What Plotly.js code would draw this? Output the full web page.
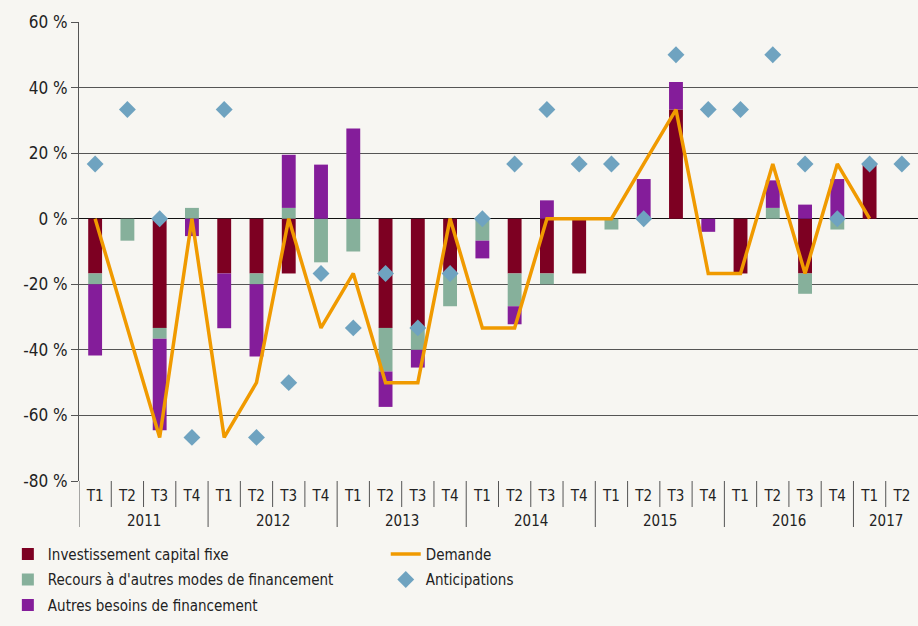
<!DOCTYPE html>
<html>
<head>
<meta charset="utf-8">
<script src="https://cdn.plot.ly/plotly-3.0.1.min.js"></script>
<style>
html,body{margin:0;padding:0;background:#f7f6f2;}
#chart{width:918px;height:626px;}
</style>
</head>
<body>
<div id="chart"></div>
<script>
const years = ['2011','2011','2011','2011','2012','2012','2012','2012','2013','2013','2013','2013','2014','2014','2014','2014','2015','2015','2015','2015','2016','2016','2016','2016','2017','2017'];
const quarters = ['T1','T2','T3','T4','T1','T2','T3','T4','T1','T2','T3','T4','T1','T2','T3','T4','T1','T2','T3','T4','T1','T2','T3','T4','T1','T2'];

const investissement = [-16.7,0,-33.3,0,-16.7,-16.7,-16.7,0,0,-33.3,-33.3,-16.7,0,-16.7,-16.7,-16.7,0,0,33.3,0,-16.7,0,-16.7,0,16.7,0];
const recours = [-3.3,-6.7,-3.3,3.3,0,-3.3,3.3,-13.3,-10,-13.3,-6.7,-10,-6.7,-10,-3.3,0,-3.3,0,0,0,0,3.3,-6.2,-3.3,0,0];
const autres = [-21.7,0,-27.9,-5.3,-16.7,-22,16.2,16.5,27.5,-10.8,-5.4,0,-5.4,-5.5,5.6,0,0,12.1,8.4,-4,0,8.4,4.3,12.1,0,0];
const demande = [0,-33.3,-66.7,0,-66.7,-50,0,-33.3,-16.7,-50,-50,0,-33.3,-33.3,0,0,0,16.7,33.3,-16.7,-16.7,16.7,-16.7,16.7,0,null];
const anticipations = [16.7,33.3,0,-66.7,33.3,-66.7,-50,-16.7,-33.3,-16.7,-33.3,-16.7,0,16.7,33.3,16.7,16.7,0,50,33.3,33.3,50,16.7,0,16.7,16.7];

const yTickVals = [60,40,20,0,-20,-40,-60,-80];
const yTickText = ['60 %','40 %','20 %','0 %','-20 %','-40 %','-60 %','-80 %'];

const FONT = '"DejaVu Sans Condensed", "Liberation Sans Narrow", Roboto, sans-serif';
const TXT = '#222';
const LINE = '#555';

// unique category keys, labelled with the quarter only
const cats = years.map((y, i) => y + ' ' + quarters[i]);
const n = cats.length;

// year groups (computed from the arrays)
const groups = [];
years.forEach((y, i) => {
  if (!groups.length || groups[groups.length - 1].year !== y) groups.push({year: y, start: i, end: i});
  else groups[groups.length - 1].end = i;
});

const PLOT_H = 626 - 22 - 145;
const shapes = [];
const annotations = [];
for (let i = 0; i < n; i++) {
  const isYearEdge = groups.some(g => g.start === i);
  shapes.push({type:'line', xref:'x', yref:'paper', x0:i - 0.5, x1:i - 0.5,
    y0:0, y1: isYearEdge ? -46 / PLOT_H : -26 / PLOT_H,
    line:{color:LINE, width:1}, layer:'above'});
}
groups.forEach(g => {
  annotations.push({xref:'x', yref:'paper', x:(g.start + g.end) / 2, y:-40 / PLOT_H,
    yanchor:'middle', xanchor:'center', text:g.year, showarrow:false,
    font:{family:FONT, size:15, color:TXT}});
});

const traces = [
  {type:'bar', name:'Investissement capital fixe', x:cats, y:investissement, marker:{color:'#7d0022'}, legend:'legend', legendgroup:'a'},
  {type:'bar', name:"Recours à d'autres modes de financement", x:cats, y:recours, marker:{color:'#86b09b'}, legend:'legend', legendgroup:'b'},
  {type:'bar', name:'Autres besoins de financement', x:cats, y:autres, marker:{color:'#841d9a'}, legend:'legend', legendgroup:'c'},
  {type:'scatter', mode:'lines', name:'Demande', x:cats, y:demande, line:{color:'#f09a00', width:3.5}, connectgaps:false, legend:'legend2', legendgroup:'d'},
  {type:'scatter', mode:'markers', name:'Anticipations', x:cats, y:anticipations, marker:{symbol:'diamond', size:13, color:'#6fa3c0'}, legend:'legend2', legendgroup:'e'}
];

const legendCommon = {orientation:'v', bgcolor:'rgba(0,0,0,0)', traceorder:'grouped', tracegroupgap:3,
  font:{family:FONT, size:15, color:TXT}, yanchor:'top', xanchor:'left'};

const layout = {
  width:918, height:626,
  paper_bgcolor:'#f7f6f2', plot_bgcolor:'#f7f6f2',
  font:{family:FONT, size:15, color:TXT},
  margin:{l:79, r:0, t:22, b:145},
  barmode:'relative',
  bargap:0.57,
  showlegend:true,
  xaxis:{
    type:'category',
    range:[-0.5, n - 0.5],
    tickvals:cats, ticktext:quarters,
    showline:false, showgrid:false, zeroline:false,
    ticks:'', ticklabelstandoff:4,
    tickfont:{family:FONT, size:15, color:TXT},
    fixedrange:true
  },
  yaxis:{
    range:[-80,60],
    tickvals:yTickVals, ticktext:yTickText,
    showgrid:true, gridcolor:LINE, gridwidth:1,
    zeroline:true, zerolinecolor:'#111', zerolinewidth:1,
    showline:true, linecolor:LINE, linewidth:1,
    ticks:'outside', ticklen:7, tickcolor:LINE,
    tickfont:{family:FONT, size:17, color:TXT},
    fixedrange:true
  },
  shapes:shapes,
  annotations:annotations,
  legend:Object.assign({x:-0.0848, y:-0.1236}, legendCommon),
  legend2:Object.assign({x:0.3656, y:-0.1236}, legendCommon)
};

Plotly.newPlot('chart', traces, layout, {displayModeBar:false, staticPlot:true});
</script>
</body>
</html>
